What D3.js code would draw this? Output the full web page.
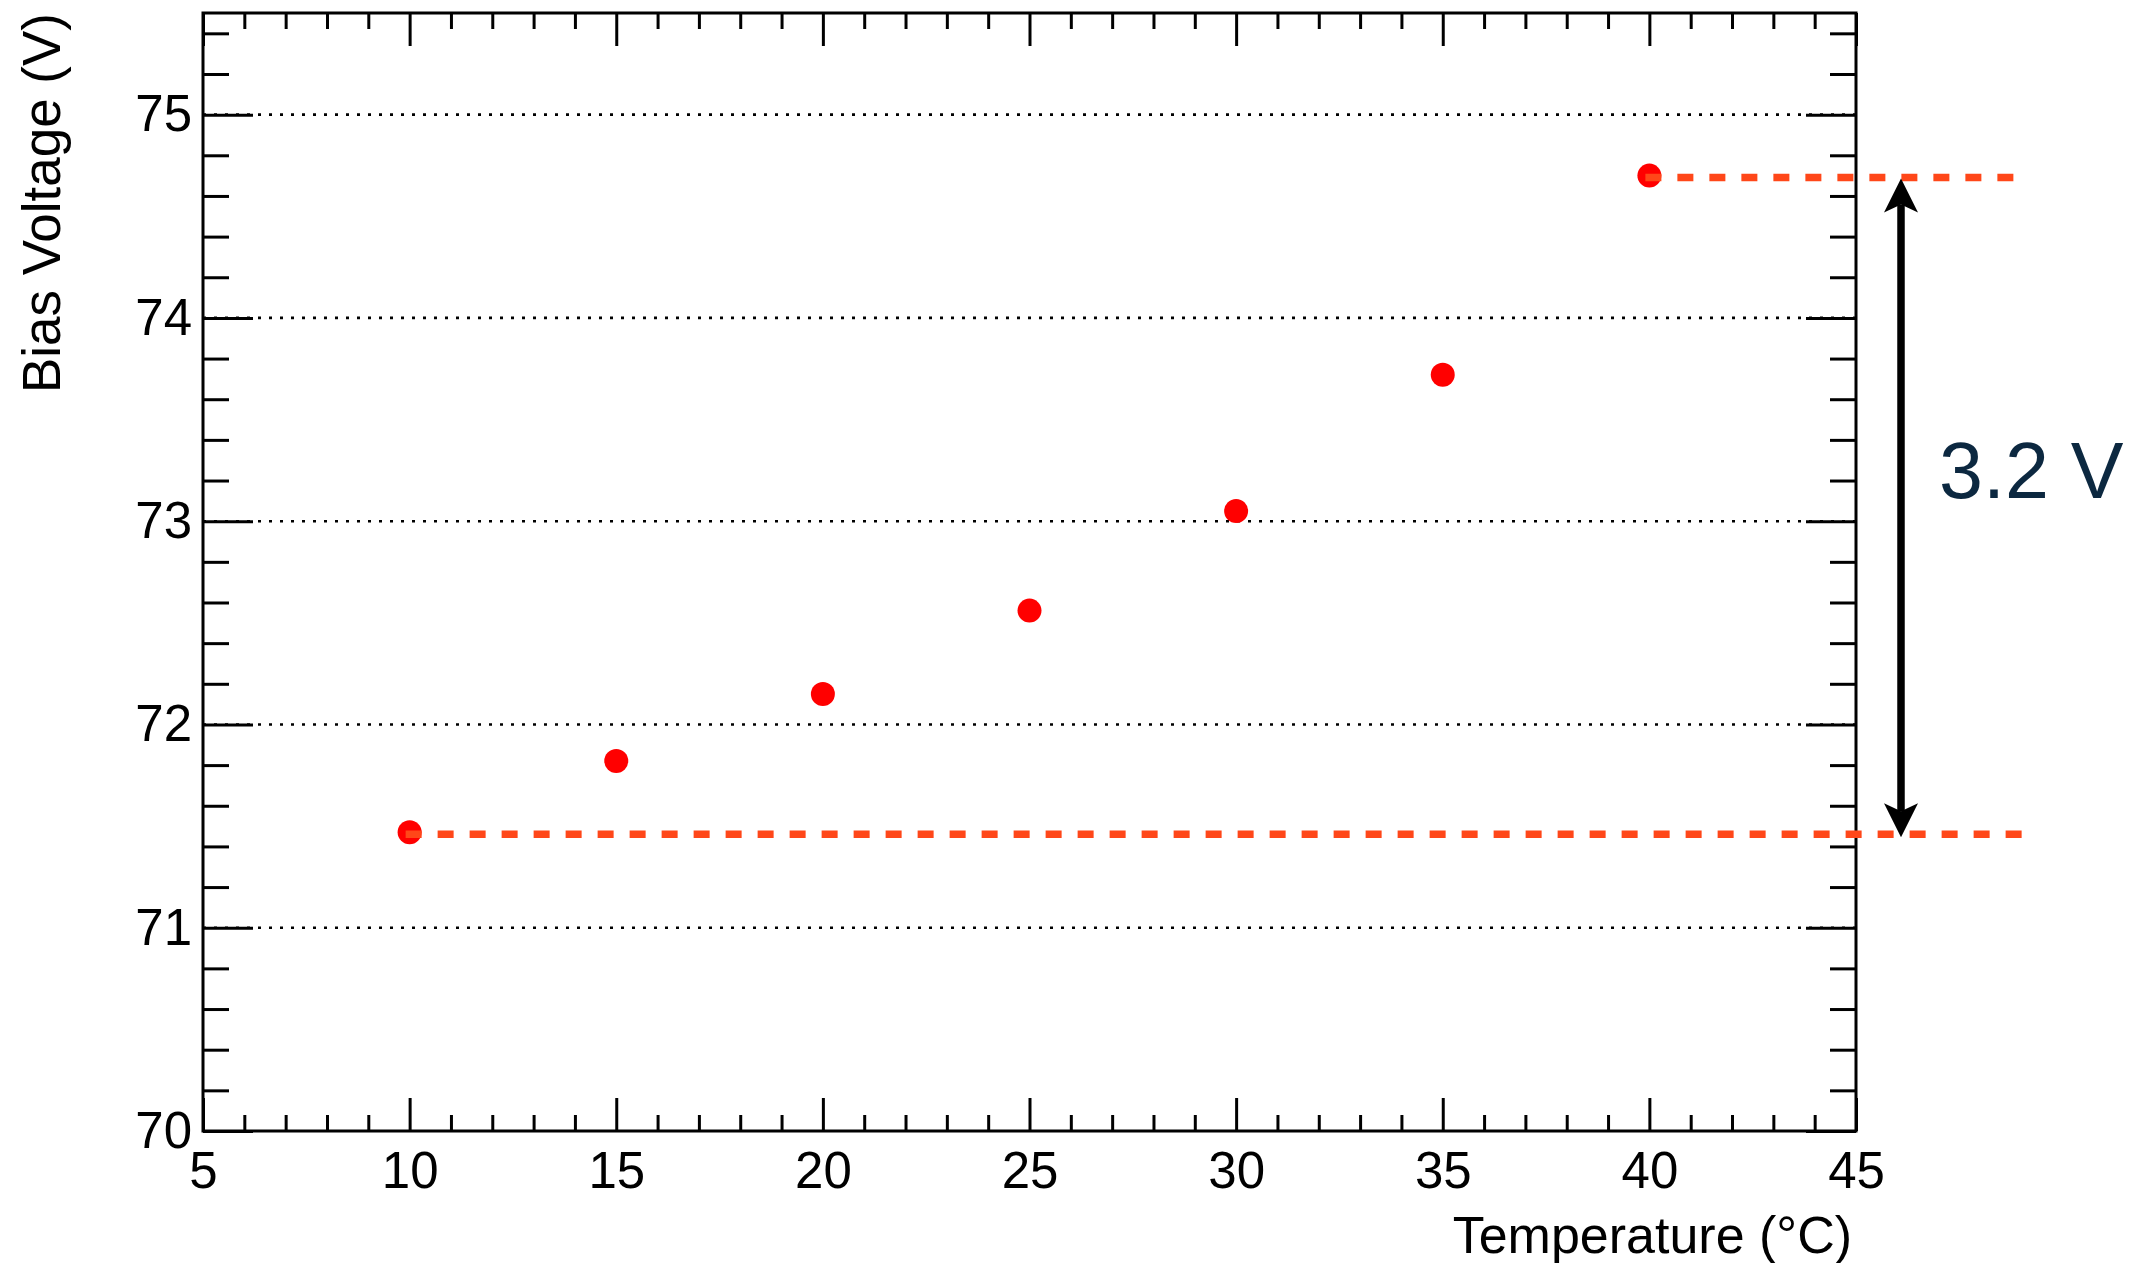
<!DOCTYPE html>
<html>
<head>
<meta charset="utf-8">
<script src="https://cdn.jsdelivr.net/npm/d3@7"></script>
<style>
  body { margin: 0; background: #fff; }
  svg text { font-family: "Liberation Sans", Arial, sans-serif; }
</style>
</head>
<body>
<div id="chart"></div>
<script>
// data
const temps = [10, 15, 20, 25, 30, 35, 40];
const bias = [71.47, 71.82, 72.15, 72.56, 73.05, 73.72, 74.70];
const xTicks = [5, 10, 15, 20, 25, 30, 35, 40, 45];
const yTicks = [70, 71, 72, 73, 74, 75];
const gridValues = [71, 72, 73, 74, 75];
const spreadLabel = '3.2 V';
const xTitle = 'Temperature (°C)';
const yTitle = 'Bias Voltage (V)';

const width = 2148;
const height = 1263;
const frame = {left: 203, right: 1856, top: 13, bottom: 1131};

const x = d3.scaleLinear().domain([5, 45]).range([frame.left, frame.right]);
const y = d3.scaleLinear().domain([70, 75.5]).range([frame.bottom, frame.top]);

const xMinor = d3.range(5, 46, 1).filter(v => v % 5 !== 0);
const yMinor = d3.range(0, 28).map(i => 70 + i * 0.2)
  .filter(v => Math.abs(v - Math.round(v)) > 0.01);

const svg = d3.select('#chart').append('svg')
  .attr('width', width)
  .attr('height', height);

svg.append('rect')
  .attr('width', width).attr('height', height)
  .attr('fill', '#fff');

// dotted grid
svg.append('g')
  .selectAll('line')
  .data(gridValues)
  .join('line')
    .attr('x1', frame.left).attr('x2', frame.right)
    .attr('y1', d => y(d)).attr('y2', d => y(d))
    .attr('stroke', '#000')
    .attr('stroke-width', 2.6)
    .attr('stroke-dasharray', '3,8');

// axes with inward ticks, mirrored on top/right
const styleAxis = g => {
  g.select('.domain').remove();
  g.selectAll('.tick line').attr('stroke', '#000').attr('stroke-width', 3);
  g.selectAll('.tick text')
    .attr('fill', '#000')
    .style('font-size', '51px');
};

const axisGroup = (axis, tx, ty) =>
  svg.append('g')
    .attr('transform', `translate(${tx},${ty})`)
    .call(axis)
    .call(styleAxis);

const fmt = d3.format('d');

axisGroup(d3.axisBottom(x).tickValues(xMinor).tickSize(-16).tickFormat(''), 0, frame.bottom);
axisGroup(d3.axisTop(x).tickValues(xMinor).tickSize(-16).tickFormat(''), 0, frame.top);
axisGroup(d3.axisTop(x).tickValues(xTicks).tickSize(-33).tickFormat(''), 0, frame.top);
const xAxisG = axisGroup(d3.axisBottom(x).tickValues(xTicks).tickSize(-33).tickFormat(fmt), 0, frame.bottom);
xAxisG.selectAll('.tick text').attr('dy', '0.71em').attr('y', 21);

axisGroup(d3.axisLeft(y).tickValues(yMinor).tickSize(-26).tickFormat(''), frame.left, 0);
axisGroup(d3.axisRight(y).tickValues(yMinor).tickSize(-26).tickFormat(''), frame.right, 0);
axisGroup(d3.axisRight(y).tickValues(yTicks).tickSize(-50).tickFormat(''), frame.right, 0);
axisGroup(d3.axisLeft(y).tickValues(yTicks).tickSize(-50).tickPadding(11).tickFormat(fmt), frame.left, 0);

// frame
svg.append('rect')
  .attr('x', frame.left).attr('y', frame.top)
  .attr('width', frame.right - frame.left)
  .attr('height', frame.bottom - frame.top)
  .attr('fill', 'none')
  .attr('stroke', '#000')
  .attr('stroke-width', 3);

// axis titles
svg.append('text')
  .attr('x', frame.right - 4)
  .attr('y', 1253)
  .attr('text-anchor', 'end')
  .style('font-size', '52px')
  .text(xTitle);

svg.append('text')
  .attr('transform', `translate(60,${frame.top}) rotate(-90)`)
  .attr('text-anchor', 'end')
  .style('font-size', '53px')
  .text(yTitle);

// data points
const points = temps.map((t, i) => ({t, v: bias[i]}));
svg.append('g')
  .selectAll('circle')
  .data(points)
  .join('circle')
    .attr('cx', d => x(d.t))
    .attr('cy', d => y(d.v))
    .attr('r', 12)
    .attr('fill', '#ff0000');

// reference lines at the lowest and highest point
const lo = points[0];
const hi = points[points.length - 1];
const refLines = [
  {x1: x(lo.t) - 4, x2: frame.right + 169, v: lo.v},
  {x1: x(hi.t) - 4, x2: frame.right + 162, v: hi.v}
];
svg.append('g')
  .selectAll('line')
  .data(refLines)
  .join('line')
    .attr('x1', d => d.x1).attr('x2', d => d.x2)
    .attr('y1', d => y(d.v) + 2).attr('y2', d => y(d.v) + 2)
    .attr('stroke', '#ff4719')
    .attr('stroke-width', 7.5)
    .attr('stroke-dasharray', '16,16');

// double arrow between the two levels
const ax = frame.right + 45;
const yTop = y(hi.v) + 3;
const yBot = y(lo.v) + 5;
const headLen = 34, headHalf = 17, notch = 26;

svg.append('line')
  .attr('x1', ax).attr('x2', ax)
  .attr('y1', yTop + notch).attr('y2', yBot - notch)
  .attr('stroke', '#000')
  .attr('stroke-width', 7.5);

const head = (tipY, dir) => [
  [ax, tipY],
  [ax + headHalf, tipY + dir * headLen],
  [ax, tipY + dir * notch],
  [ax - headHalf, tipY + dir * headLen]
];

svg.append('g')
  .selectAll('path')
  .data([head(yTop, 1), head(yBot, -1)])
  .join('path')
    .attr('d', d => d3.line()(d) + 'Z')
    .attr('fill', '#000');

svg.append('text')
  .attr('x', 1939)
  .attr('y', 498)
  .attr('fill', '#0c2840')
  .style('font-size', '79px')
  .text(spreadLabel);
</script>
</body>
</html>
